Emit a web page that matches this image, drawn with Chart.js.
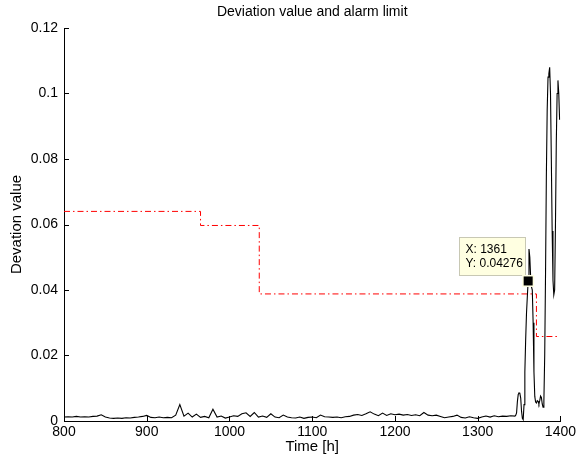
<!DOCTYPE html>
<html>
<head>
<meta charset="utf-8">
<script src="https://cdn.jsdelivr.net/npm/chart.js@4.4.0/dist/chart.umd.min.js"></script>
<style>
  html, body { margin: 0; padding: 0; background: #fff; }
  #wrap { width: 579px; height: 461px; }
</style>
</head>
<body>
<div id="wrap"><canvas id="chart"></canvas></div>
<script>
// ===== DATA =====
// quiet period, sampled every 5 h from 800 h
const baseStart = 800;
const baseStep = 5;
const baseValues = [
  0.0012, 0.0013, 0.0012, 0.0014, 0.0012, 0.0013, 0.0012, 0.0014, 0.0015, 0.0019,
  0.0012, 0.0009, 0.0008, 0.0009, 0.0008, 0.0010, 0.0009, 0.0011, 0.0012, 0.0014,
  0.0017, 0.0011, 0.0010, 0.0012, 0.0010, 0.0011, 0.0010, 0.0018, 0.0050, 0.0015,
  0.0024, 0.0012, 0.0021, 0.0011, 0.0014, 0.0010, 0.0036, 0.0012, 0.0015, 0.0009,
  0.0012, 0.0016, 0.0014, 0.0022, 0.0025, 0.0014, 0.0026, 0.0012, 0.0015, 0.0011,
  0.0022, 0.0012, 0.0010, 0.0018, 0.0012, 0.0010, 0.0009, 0.0012, 0.0008, 0.0011,
  0.0012, 0.0010, 0.0018, 0.0013, 0.0012, 0.0011, 0.0012, 0.0010, 0.0013, 0.0014,
  0.0018, 0.0020, 0.0017, 0.0022, 0.0028, 0.0021, 0.0016, 0.0024, 0.0017, 0.0022,
  0.0019, 0.0021, 0.0018, 0.0020, 0.0017, 0.0019, 0.0016, 0.0026, 0.0018, 0.0016,
  0.0018, 0.0014, 0.0010, 0.0012, 0.0014, 0.0018, 0.0011, 0.0009, 0.0013, 0.0010,
  0.0008, 0.0012, 0.0015, 0.0012, 0.0016, 0.0013, 0.0015, 0.0014, 0.0016, 0.0015
];

// fault period, hourly from 1346 h
const spikeStart = 1346;
const spikeValues = [
  0.0018, 0.0025, 0.0060, 0.0081, 0.0086, 0.0084, 0.0070, 0.0030, 0.0008, 0.0004,
  0.0050, 0.0150, 0.0250, 0.0330, 0.0380, 0.04276, 0.0525, 0.0500, 0.0440, 0.0410,
  0.0400, 0.0300, 0.0150, 0.0075, 0.0058, 0.0055, 0.0062, 0.0060, 0.0052, 0.0062,
  0.0076, 0.0072, 0.0052, 0.0042, 0.0060, 0.0200, 0.0450, 0.0750, 0.0950, 0.1050,
  0.1060, 0.1080, 0.1000, 0.0800, 0.0580, 0.0430, 0.0385, 0.0400, 0.0600, 0.0850,
  0.1000, 0.1040, 0.1000, 0.0920
];

// alarm limit (stepped)
const limitTimes  = [800, 965, 965, 1036, 1036, 1371, 1371, 1396];
const limitValues = [0.064, 0.064, 0.0597, 0.0597, 0.0388, 0.0388, 0.0258, 0.0258];

// data tip
const tipX = 1361;
const tipY = 0.04276;

const xTicks = [800, 900, 1000, 1100, 1200, 1300, 1400];
const yTicks = [0, 0.02, 0.04, 0.06, 0.08, 0.1, 0.12];

const chartTitle = 'Deviation value and alarm limit';

// ===== BUILD SERIES =====
const deviation = [
  ...baseValues.map((v, i) => ({ x: baseStart + i * baseStep, y: v })),
  ...spikeValues.map((v, i) => ({ x: spikeStart + i, y: v }))
];
const limit = limitTimes.map((t, i) => ({ x: t, y: limitValues[i] }));

const FONT = 'Helvetica, Arial, "Liberation Sans", sans-serif';

// inward tick marks, MATLAB style
const inwardTicks = {
  id: 'inwardTicks',
  afterDraw(chart) {
    const { ctx, chartArea: a, scales: { x, y } } = chart;
    ctx.save();
    ctx.strokeStyle = '#000';
    ctx.lineWidth = 1;
    ctx.beginPath();
    xTicks.forEach(t => {
      const px = Math.round(x.getPixelForValue(t)) + 0.5;
      ctx.moveTo(px, a.bottom);
      ctx.lineTo(px, a.bottom - 5);
    });
    yTicks.forEach(t => {
      const py = Math.round(y.getPixelForValue(t)) + 0.5;
      ctx.moveTo(a.left, py);
      ctx.lineTo(a.left + 5, py);
    });
    ctx.stroke();
    ctx.restore();
  }
};

// title centred over the axes (not the canvas)
const axesTitle = {
  id: 'axesTitle',
  afterDraw(chart) {
    const { ctx, chartArea: a } = chart;
    ctx.save();
    ctx.fillStyle = '#000';
    ctx.font = '14px ' + FONT;
    ctx.textAlign = 'center';
    ctx.textBaseline = 'middle';
    ctx.fillText(chartTitle, (a.left + a.right) / 2, 12);
    ctx.restore();
  }
};

// data tip box + marker
const dataTip = {
  id: 'dataTip',
  afterDatasetsDraw(chart) {
    const { ctx, scales: { x, y } } = chart;
    const mx = x.getPixelForValue(tipX);
    const my = y.getPixelForValue(tipY);
    ctx.save();
    const bw = 66, bh = 38;
    const bx = Math.round(mx - 3 - bw) + 0.5;
    const by = Math.round(my - 6 - bh) + 0.5;
    ctx.fillStyle = '#ffffe1';
    ctx.strokeStyle = '#c8c8b4';
    ctx.lineWidth = 1;
    ctx.fillRect(bx, by, bw, bh);
    ctx.strokeRect(bx, by, bw, bh);
    ctx.fillStyle = '#000';
    ctx.font = '12px ' + FONT;
    ctx.textBaseline = 'middle';
    ctx.textAlign = 'left';
    ctx.fillText('X: ' + tipX, bx + 6, by + 12);
    ctx.fillText('Y: ' + tipY, bx + 6, by + 26);
    // marker
    ctx.fillStyle = '#ffffe1';
    ctx.fillRect(mx - 6, my - 6, 12, 12);
    ctx.fillStyle = '#000';
    ctx.fillRect(mx - 4.5, my - 4.5, 9, 9);
    ctx.restore();
  }
};

new Chart(document.getElementById('chart'), {
  type: 'line',
  data: {
    datasets: [
      {
        label: 'Deviation',
        data: deviation,
        borderColor: '#000',
        borderWidth: 1.1,
        pointRadius: 0,
        tension: 0,
        order: 1
      },
      {
        label: 'Alarm limit',
        data: limit,
        borderColor: '#ff0000',
        borderWidth: 1,
        borderDash: [6, 3, 1.5, 3],
        pointRadius: 0,
        tension: 0,
        order: 2
      }
    ]
  },
  options: {
    responsive: true,
    maintainAspectRatio: false,
    animation: false,
    layout: { padding: { left: 0, right: 16, top: 28, bottom: 0 } },
    plugins: {
      legend: { display: false },
      tooltip: { enabled: false },
      title: { display: false }
    },
    scales: {
      x: {
        type: 'linear',
        min: 800,
        max: 1400,
        afterFit: s => { s.height = 40; },
        afterBuildTicks: s => { s.ticks = xTicks.map(v => ({ value: v })); },
        ticks: {
          color: '#000',
          font: { family: FONT, size: 14 },
          padding: 3,
          maxRotation: 0,
          callback: v => String(v)
        },
        grid: { display: false, drawTicks: false },
        border: { display: true, color: '#000', width: 1 },
        title: {
          display: true,
          text: 'Time [h]',
          color: '#000',
          font: { family: FONT, size: 15 },
          padding: { top: 0, bottom: 5 }
        }
      },
      y: {
        min: 0,
        max: 0.12,
        afterFit: s => { s.width = 64; },
        afterBuildTicks: s => { s.ticks = yTicks.map(v => ({ value: v })); },
        ticks: {
          color: '#000',
          font: { family: FONT, size: 14 },
          padding: 6,
          callback: v => String(Number(v.toFixed(2)))
        },
        grid: { display: false, drawTicks: false },
        border: { display: true, color: '#000', width: 1 },
        title: {
          display: true,
          text: 'Devation value',
          color: '#000',
          font: { family: FONT, size: 15 },
          padding: { top: 8, bottom: 0 }
        }
      }
    }
  },
  plugins: [inwardTicks, axesTitle, dataTip]
});
</script>
</body>
</html>
